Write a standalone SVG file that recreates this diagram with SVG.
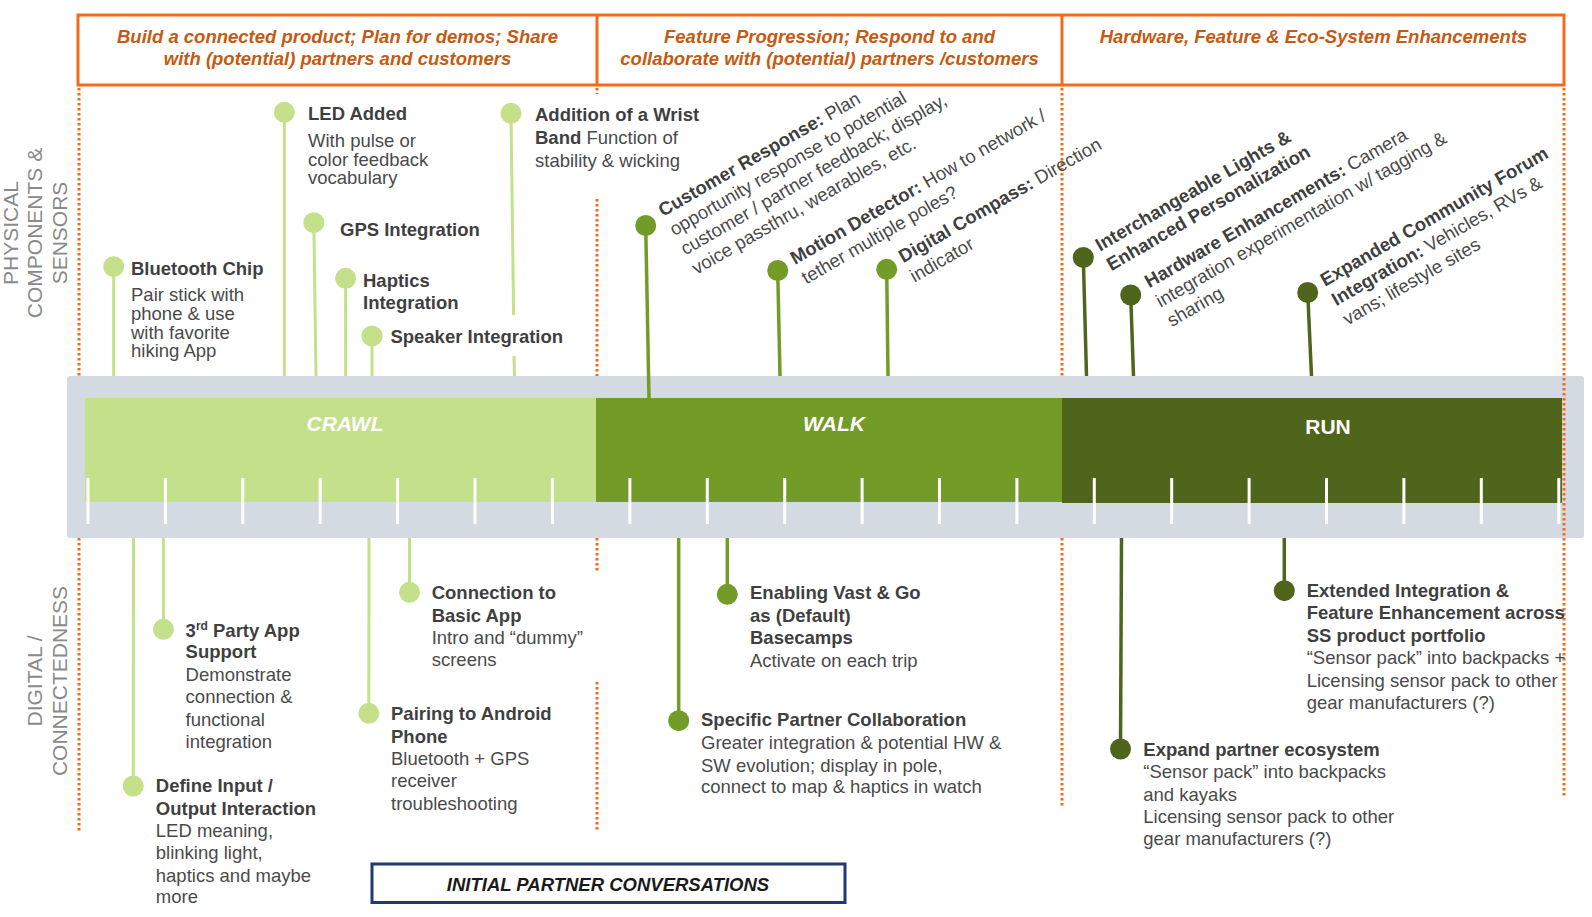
<svg xmlns="http://www.w3.org/2000/svg" width="1592" height="917" viewBox="0 0 1592 917">
<style>
text{font-family:"Liberation Sans",Arial,sans-serif}
.hdr{font-size:18.5px;font-weight:bold;font-style:italic;fill:#C55A11;text-anchor:middle}
.axis{font-size:21px;fill:#8A8A8A;text-anchor:middle}
.t{font-size:18.5px;font-weight:bold;fill:#3F3F3F}
.d{font-size:18.5px;fill:#4A4A4A}
.r{font-size:18.6px;fill:#4A4A4A}
.r .b{font-weight:bold;fill:#3F3F3F}
.band{font-size:21px;font-weight:bold;fill:#FFFFFF;text-anchor:middle}
.dash{stroke:#F26A1B;stroke-width:3;stroke-dasharray:2.5 2.5;fill:none}
.lc{stroke:#C5E08B;stroke-width:3;fill:none}
.lw{stroke:#739B28;stroke-width:3.5;fill:none}
.lr{stroke:#4F651C;stroke-width:3.5;fill:none}
.tick{fill:#FFFFFF}
</style>

<!-- guide dashed lines behind band -->
<g id="guides">
<line class="dash" x1="79" y1="88" x2="79" y2="832"/>
<line class="dash" x1="597" y1="88" x2="597" y2="94"/>
<line class="dash" x1="597" y1="199" x2="597" y2="376"/>
<line class="dash" x1="597" y1="538" x2="597" y2="571"/>
<line class="dash" x1="597" y1="682" x2="597" y2="830"/>
<line class="dash" x1="1062" y1="88" x2="1062" y2="376"/>
<line class="dash" x1="1062" y1="538" x2="1062" y2="808"/>
</g>

<!-- header -->
<g id="header">
<rect x="78" y="15" width="1486" height="70" fill="none" stroke="#F26A1B" stroke-width="3"/>
<line x1="597" y1="15" x2="597" y2="85" stroke="#F26A1B" stroke-width="3"/>
<line x1="1062" y1="15" x2="1062" y2="85" stroke="#F26A1B" stroke-width="3"/>
<text class="hdr" x="337.5" y="42.5">Build a connected product; Plan for demos; Share</text>
<text class="hdr" x="337.5" y="65">with (potential) partners and customers</text>
<text class="hdr" x="829.5" y="42.5">Feature Progression; Respond to and</text>
<text class="hdr" x="829.5" y="65">collaborate with (potential) partners /customers</text>
<text class="hdr" x="1313.5" y="42.5">Hardware, Feature &amp; Eco-System Enhancements</text>
</g>

<!-- axis labels -->
<g id="axis-top">
<text class="axis" transform="translate(17.5,233) rotate(-90)">PHYSICAL</text>
<text class="axis" transform="translate(42,233) rotate(-90)">COMPONENTS &amp;</text>
<text class="axis" transform="translate(66.5,233) rotate(-90)">SENSORS</text>
</g>
<g id="axis-bottom">
<text class="axis" transform="translate(42,681) rotate(-90)">DIGITAL /</text>
<text class="axis" transform="translate(67,681) rotate(-90)">CONNECTEDNESS</text>
</g>

<!-- timeline band -->
<g id="timeline">
<rect x="67" y="376" width="1517" height="162" rx="3" fill="#D3DAE1"/>
<rect id="crawl" x="85" y="398" width="511" height="104" fill="#C5E08B"/>
<rect id="walk" x="596" y="398" width="466" height="104" fill="#739B28"/>
<rect id="run" x="1062" y="398" width="500" height="105" fill="#4F651C"/>
<text class="band" x="345" y="431" font-style="italic">CRAWL</text>
<text class="band" x="834" y="431" font-style="italic">WALK</text>
<text class="band" x="1328" y="434">RUN</text>
<g id="ticks">
<rect class="tick" x="86.5" y="478" width="3" height="46"/>
<rect class="tick" x="163.9" y="478" width="3" height="46"/>
<rect class="tick" x="241.3" y="478" width="3" height="46"/>
<rect class="tick" x="318.7" y="478" width="3" height="46"/>
<rect class="tick" x="396.1" y="478" width="3" height="46"/>
<rect class="tick" x="473.5" y="478" width="3" height="46"/>
<rect class="tick" x="550.9" y="478" width="3" height="46"/>
<rect class="tick" x="628.4" y="478" width="3" height="46"/>
<rect class="tick" x="705.8" y="478" width="3" height="46"/>
<rect class="tick" x="783.2" y="478" width="3" height="46"/>
<rect class="tick" x="860.6" y="478" width="3" height="46"/>
<rect class="tick" x="938" y="478" width="3" height="46"/>
<rect class="tick" x="1015.4" y="478" width="3" height="46"/>
<rect class="tick" x="1092.8" y="478" width="3" height="46"/>
<rect class="tick" x="1170.2" y="478" width="3" height="46"/>
<rect class="tick" x="1247.6" y="478" width="3" height="46"/>
<rect class="tick" x="1325" y="478" width="3" height="46"/>
<rect class="tick" x="1402.4" y="478" width="3" height="46"/>
<rect class="tick" x="1479.8" y="478" width="3" height="46"/>
<rect class="tick" x="1557.3" y="478" width="3" height="46"/>
</g>
</g>

<!-- connectors (stems) -->
<g id="connectors">
<line class="lc" x1="113.7" y1="266.7" x2="113.7" y2="376"/>
<line class="lc" x1="284.3" y1="112.3" x2="284.3" y2="376"/>
<line class="lc" x1="313.8" y1="222.7" x2="316" y2="376"/>
<line class="lc" x1="345.6" y1="278.3" x2="345.6" y2="376"/>
<line class="lc" x1="372" y1="336" x2="372" y2="376"/>
<line class="lc" x1="511" y1="113.3" x2="513.6" y2="315"/>
<line class="lc" x1="514" y1="356" x2="514.5" y2="376"/>
<line class="lw" x1="645.7" y1="225.5" x2="649" y2="398"/>
<line class="lw" x1="777.7" y1="270.5" x2="780" y2="376"/>
<line class="lw" x1="886.7" y1="269.3" x2="888" y2="376"/>
<line class="lr" x1="1083.3" y1="257.5" x2="1086.5" y2="376"/>
<line class="lr" x1="1130.7" y1="295" x2="1133.5" y2="376"/>
<line class="lr" x1="1307.7" y1="292.5" x2="1311.5" y2="376"/>
<line class="lc" x1="133.5" y1="538" x2="133.2" y2="786"/>
<line class="lc" x1="163.4" y1="538" x2="163.4" y2="629.3"/>
<line class="lc" x1="409.5" y1="538" x2="409.5" y2="592.3"/>
<line class="lc" x1="369" y1="538" x2="368.8" y2="713.3"/>
<line class="lw" x1="727.3" y1="538" x2="727.3" y2="594.3"/>
<line class="lw" x1="678.7" y1="538" x2="678.7" y2="720.7"/>
<line class="lr" x1="1121.5" y1="538" x2="1120.5" y2="749"/>
<line class="lr" x1="1284.3" y1="538" x2="1284.3" y2="590.7"/>
</g>

<!-- right guide on top of band -->
<line class="dash" x1="1564" y1="88" x2="1564" y2="797"/>

<!-- crawl top nodes -->
<g id="n-bluetooth">
<circle cx="113.7" cy="266.7" r="10.5" fill="#C5E08B"/>
<text class="t" x="131" y="275">Bluetooth Chip</text>
<text class="d" x="131" y="301">Pair stick with</text>
<text class="d" x="131" y="320">phone &amp; use</text>
<text class="d" x="131" y="338.5">with favorite</text>
<text class="d" x="131" y="357">hiking App</text>
</g>
<g id="n-led">
<circle cx="284.3" cy="112.3" r="10.5" fill="#C5E08B"/>
<text class="t" x="308" y="120">LED Added</text>
<text class="d" x="308" y="146.7">With pulse or</text>
<text class="d" x="308" y="165.5">color feedback</text>
<text class="d" x="308" y="184.3">vocabulary</text>
</g>
<g id="n-gps">
<circle cx="313.8" cy="222.7" r="10.5" fill="#C5E08B"/>
<text class="t" x="340" y="236">GPS Integration</text>
</g>
<g id="n-haptics">
<circle cx="345.6" cy="278.3" r="10.5" fill="#C5E08B"/>
<text class="t" x="363" y="286.5">Haptics</text>
<text class="t" x="363" y="308.5">Integration</text>
</g>
<g id="n-speaker">
<circle cx="372" cy="336" r="10.5" fill="#C5E08B"/>
<text class="t" x="390.4" y="342.7">Speaker Integration</text>
</g>
<g id="n-wrist">
<circle cx="511" cy="113.3" r="10.5" fill="#C5E08B"/>
<text class="t" x="535" y="120.5">Addition of a Wrist</text>
<text class="d" x="535" y="144"><tspan font-weight="bold" fill="#3F3F3F">Band</tspan> Function of</text>
<text class="d" x="535" y="166.5">stability &amp; wicking</text>
</g>

<!-- walk top nodes -->
<g id="n-customer">
<circle cx="645.7" cy="225.5" r="10.5" fill="#739B28"/>
<g class="r" transform="translate(663,217) rotate(-30)">
<text x="0" y="0"><tspan class="b">Customer Response:</tspan> Plan</text>
<text x="0" y="22.3">opportunity response to potential</text>
<text x="0" y="44.6">customer / partner feedback; display,</text>
<text x="0" y="66.9">voice passthru, wearables, etc.</text>
</g>
</g>
<g id="n-motion">
<circle cx="777.7" cy="270.5" r="10.5" fill="#739B28"/>
<g class="r" transform="translate(795,265) rotate(-30)">
<text x="0" y="0"><tspan class="b">Motion Detector:</tspan> How to network /</text>
<text x="0" y="22.5">tether multiple poles?</text>
</g>
</g>
<g id="n-compass">
<circle cx="886.7" cy="269.3" r="10.5" fill="#739B28"/>
<g class="r" transform="translate(903.3,263.3) rotate(-30)">
<text x="0" y="0"><tspan class="b">Digital Compass:</tspan> Direction</text>
<text x="0" y="22.5">indicator</text>
</g>
</g>

<!-- run top nodes -->
<g id="n-lights">
<circle cx="1083.3" cy="257.5" r="10.5" fill="#4F651C"/>
<g class="r" transform="translate(1100,251.7) rotate(-30)">
<text x="0" y="0" class="b">Interchangeable Lights &amp;</text>
<text x="0" y="22.5" class="b">Enhanced Personalization</text>
</g>
</g>
<g id="n-hardware">
<circle cx="1130.7" cy="295" r="10.5" fill="#4F651C"/>
<g class="r" transform="translate(1149.3,288.3) rotate(-30)">
<text x="0" y="0"><tspan class="b">Hardware Enhancements:</tspan> Camera</text>
<text x="0" y="22.5">integration experimentation w/ tagging &amp;</text>
<text x="0" y="45">sharing</text>
</g>
</g>
<g id="n-community">
<circle cx="1307.7" cy="292.5" r="10.5" fill="#4F651C"/>
<g class="r" transform="translate(1325,286.7) rotate(-30)">
<text x="0" y="0" class="b">Expanded Community Forum</text>
<text x="0" y="22.5"><tspan class="b">Integration:</tspan> Vehicles, RVs &amp;</text>
<text x="0" y="45">vans; lifestyle sites</text>
</g>
</g>

<!-- crawl bottom nodes -->
<g id="n-define">
<circle cx="133.2" cy="786" r="10.5" fill="#C5E08B"/>
<text class="t" x="155.8" y="791.7">Define Input /</text>
<text class="t" x="155.8" y="815">Output Interaction</text>
<text class="d" x="155.8" y="836.7">LED meaning,</text>
<text class="d" x="155.8" y="859.3">blinking light,</text>
<text class="d" x="155.8" y="881.7">haptics and maybe</text>
<text class="d" x="155.8" y="903.3">more</text>
</g>
<g id="n-thirdparty">
<circle cx="163.4" cy="629.3" r="10.5" fill="#C5E08B"/>
<text class="t" x="185.6" y="636.7">3<tspan font-size="12" dy="-7">rd</tspan><tspan dy="7"> Party App</tspan></text>
<text class="t" x="185.6" y="658.3">Support</text>
<text class="d" x="185.6" y="681">Demonstrate</text>
<text class="d" x="185.6" y="703.3">connection &amp;</text>
<text class="d" x="185.6" y="726">functional</text>
<text class="d" x="185.6" y="748.3">integration</text>
</g>
<g id="n-basicapp">
<circle cx="409.5" cy="592.3" r="10.5" fill="#C5E08B"/>
<text class="t" x="431.7" y="599.3">Connection to</text>
<text class="t" x="431.7" y="621.7">Basic App</text>
<text class="d" x="431.7" y="644">Intro and “dummy”</text>
<text class="d" x="431.7" y="666">screens</text>
</g>
<g id="n-android">
<circle cx="368.8" cy="713.3" r="10.5" fill="#C5E08B"/>
<text class="t" x="391" y="720">Pairing to Android</text>
<text class="t" x="391" y="742.7">Phone</text>
<text class="d" x="391" y="765">Bluetooth + GPS</text>
<text class="d" x="391" y="787.3">receiver</text>
<text class="d" x="391" y="810">troubleshooting</text>
</g>

<!-- walk bottom nodes -->
<g id="n-enabling">
<circle cx="727.3" cy="594.3" r="10.5" fill="#739B28"/>
<text class="t" x="750" y="599.3">Enabling Vast &amp; Go</text>
<text class="t" x="750" y="621.7">as (Default)</text>
<text class="t" x="750" y="644.3">Basecamps</text>
<text class="d" x="750" y="666.7">Activate on each trip</text>
</g>
<g id="n-specific">
<circle cx="678.7" cy="720.7" r="10.5" fill="#739B28"/>
<text class="t" x="701" y="726">Specific Partner Collaboration</text>
<text class="d" x="701" y="749.3">Greater integration &amp; potential HW &amp;</text>
<text class="d" x="701" y="771.7">SW evolution; display in pole,</text>
<text class="d" x="701" y="793.3">connect to map &amp; haptics in watch</text>
</g>

<!-- run bottom nodes -->
<g id="n-expand">
<circle cx="1120.5" cy="749" r="10.5" fill="#4F651C"/>
<text class="t" x="1143.3" y="756">Expand partner ecosystem</text>
<text class="d" x="1143.3" y="778.3">“Sensor pack” into backpacks</text>
<text class="d" x="1143.3" y="800.7">and kayaks</text>
<text class="d" x="1143.3" y="822.7">Licensing sensor pack to other</text>
<text class="d" x="1143.3" y="845">gear manufacturers (?)</text>
</g>
<g id="n-extended">
<circle cx="1284.3" cy="590.7" r="10.5" fill="#4F651C"/>
<text class="t" x="1306.7" y="596.7">Extended Integration &amp;</text>
<text class="t" x="1306.7" y="619.3">Feature Enhancement across</text>
<text class="t" x="1306.7" y="641.7">SS product portfolio</text>
<text class="d" x="1306.7" y="664">“Sensor pack” into backpacks +</text>
<text class="d" x="1306.7" y="686.7">Licensing sensor pack to other</text>
<text class="d" x="1306.7" y="709">gear manufacturers (?)</text>
</g>

<!-- partner conversations box -->
<g id="n-partner-conv">
<rect x="372" y="864" width="473" height="38.5" fill="#FFFFFF" stroke="#1F3A6E" stroke-width="3"/>
<text x="608" y="891" font-size="18.5" font-weight="bold" font-style="italic" fill="#1A1A1A" text-anchor="middle">INITIAL PARTNER CONVERSATIONS</text>
</g>
</svg>
